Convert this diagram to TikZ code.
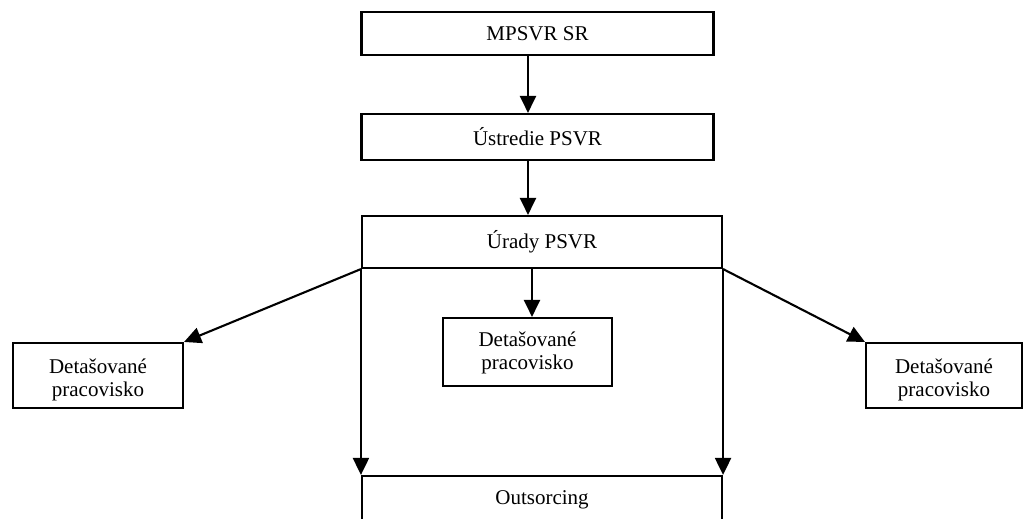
\documentclass[tikz,border=0pt]{standalone}
\usepackage{fontspec}
\setmainfont{Liberation Serif}
\usetikzlibrary{arrows.meta}
\newcommand{\twolines}[3]{\raisebox{#3}[20pt][20pt]{\begin{tabular}{@{}c@{}}#1\\#2\end{tabular}}}
\begin{document}
\begin{tikzpicture}[x=1pt,y=1pt,
  box/.style={draw, line width=2.1pt, inner sep=0pt, align=center,
    font=\fontsize{21}{23}\selectfont},
  arr/.style={line width=2.1pt, -{Triangle[length=17pt,width=16pt]}}]
\useasboundingbox (0,0) rectangle (1023,-519);
\clip (0,0) rectangle (1023,-519);
\node[box, minimum width=352, minimum height=43] (mpsvr) at (537.5,-33.5) {MPSVR SR};
\node[box, minimum width=352, minimum height=46] (ustr) at (537.5,-137) {Ústredie PSVR};
\node[box, minimum width=360, minimum height=52] (urady) at (542,-242) {Úrady PSVR};
\node[box, minimum width=169, minimum height=68] (detc) at (527.5,-352) {\twolines{Detašované}{pracovisko}{-7pt}};
\node[box, minimum width=170, minimum height=65] (detl) at (98,-375.5) {\twolines{Detašované}{pracovisko}{-10.5pt}};
\node[box, minimum width=156, minimum height=65] (detr) at (944,-375.5) {\twolines{Detašované}{pracovisko}{-10.5pt}};
\node[box, minimum width=360, minimum height=48] (outs) at (542,-500) {Outsorcing};
\coordinate (xa) at (528,0);
\coordinate (xb) at (532,0);
\draw[arr] (mpsvr.south -| xa) -- (ustr.north -| xa);
\draw[arr] (ustr.south -| xa) -- (urady.north -| xa);
\draw[arr] (urady.south -| xb) -- (detc.north -| xb);
\draw[arr] (urady.south west) -- (detl.north east);
\draw[arr] (urady.south east) -- (detr.north west);
\draw[arr] (urady.south west) -- (outs.north west);
\draw[arr] (urady.south east) -- (outs.north east);
\end{tikzpicture}
\end{document}
